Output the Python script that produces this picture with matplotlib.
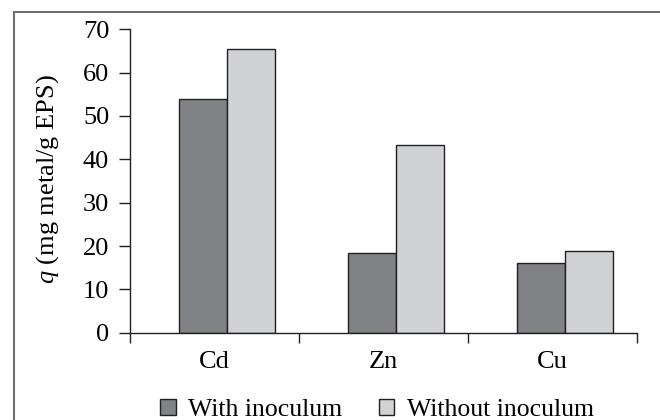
import matplotlib
matplotlib.use("Agg")
import matplotlib.pyplot as plt
from matplotlib.patches import Rectangle
import numpy as np

# dados
metais = ["Cd", "Zn", "Cu"]
com_inoculo = [53.9, 18.3, 16.1]
sem_inoculo = [65.5, 43.4, 18.9]
yticks = [0, 10, 20, 30, 40, 50, 60, 70]

plt.rcParams['font.family'] = ['Liberation Serif', 'DejaVu Serif']
plt.rcParams['mathtext.fontset'] = 'custom'
plt.rcParams['mathtext.it'] = 'Liberation Serif:italic'
plt.rcParams['mathtext.rm'] = 'Liberation Serif'

cor_escura = '#808285'
cor_clara = '#d1d2d4'
cor_borda = '#231f20'
fs = 19

fig = plt.figure(figsize=(6.6, 4.2), dpi=100)
ax = fig.add_axes([130/660, 87.3/420, 507/660, 303.4/420])

x = np.arange(len(metais))
w = 0.282
off = 0.074
ax.bar(x + off - w/2, com_inoculo, w, color=cor_escura, edgecolor=cor_borda,
       linewidth=1.0, label='With inoculum')
ax.bar(x + off + w/2, sem_inoculo, w, color=cor_clara, edgecolor=cor_borda,
       linewidth=1.0, label='Without inoculum')

ax.set_xlim(-0.5, 2.5)
ax.set_ylim(0, 70)
ax.set_yticks(yticks)
ax.set_xticks(x)
ax.set_xticklabels(metais)
ax.set_xticks([-0.5, 0.5, 1.5, 2.5], minor=True)
ax.tick_params(axis='x', which='major', length=0, pad=13, labelsize=fs)
ax.tick_params(axis='x', which='minor', length=7.5, width=1.0, color=cor_borda)
ax.tick_params(axis='y', length=8, width=1.0, pad=7, labelsize=fs, color=cor_borda)

for s in ['top', 'right']:
    ax.spines[s].set_visible(False)
for s in ['left', 'bottom']:
    ax.spines[s].set_linewidth(1.0)
    ax.spines[s].set_color(cor_borda)

fig.text(48/660, 1 - 179/420, r'$q$ (mg metal/g EPS)', rotation=90,
         ha='center', va='center', fontsize=fs)

fig.legend(loc='center', bbox_to_anchor=(377/660, 1 - 410/420), ncol=2,
           frameon=False, fontsize=18.5, handlelength=0.6, handleheight=0.6,
           handletextpad=0.5, columnspacing=1.4, borderaxespad=0)

# moldura externa
fig.patches.append(Rectangle((14/660, -0.1), 1.2, 1 - 12/420 + 0.1,
                             transform=fig.transFigure, fill=False,
                             edgecolor='#6d6e70', linewidth=1.5))

fig.savefig('out.png', dpi=100)
